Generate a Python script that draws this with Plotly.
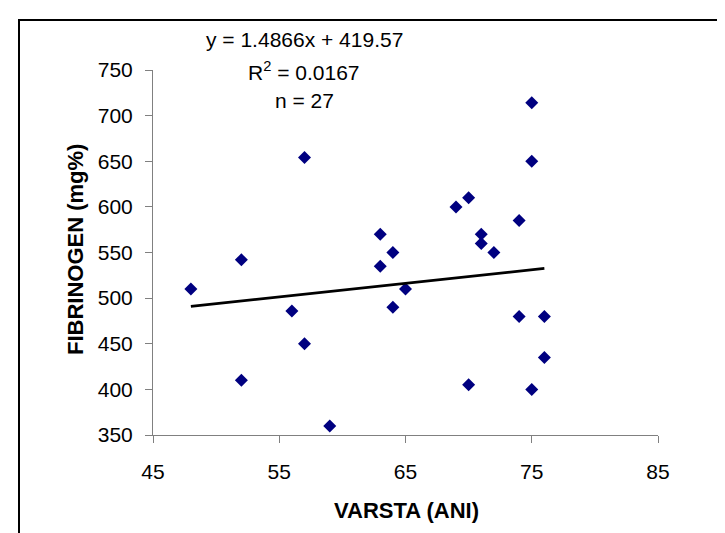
import plotly.graph_objects as go

# Data
age = [48, 52, 52, 56, 57, 57, 59, 63, 63, 64, 64, 65, 69, 70, 70, 71, 71, 72,
       74, 74, 75, 75, 75, 76, 76]
fibrinogen = [510, 542, 410, 486, 654, 450, 360, 570, 535, 550, 490, 510, 600,
              610, 405, 570, 560, 550, 585, 480, 714, 650, 400, 480, 435]

slope = 1.4866
intercept = 419.57
r2 = 0.0167
n = 27

x_ticks = [45, 55, 65, 75, 85]
y_ticks = [350, 400, 450, 500, 550, 600, 650, 700, 750]

FONT = "Liberation Sans, Arial, sans-serif"

# plot-area geometry in pixels (for placing paper-relative items)
L, R, T, B = 145, 650, 62, 427
W, H = R - L, B - T


def px(x):
    return (x - L) / W


def py(y):
    return (B - y) / H


fig = go.Figure()

fig.add_trace(go.Scatter(
    x=age, y=fibrinogen, mode="markers",
    marker=dict(symbol="diamond", size=10, color="#000080"),
    showlegend=False, hoverinfo="x+y",
))

x_line = [min(age), max(age)]
y_line = [slope * v + intercept for v in x_line]
fig.add_trace(go.Scatter(
    x=x_line, y=y_line, mode="lines",
    line=dict(color="black", width=2.8),
    showlegend=False, hoverinfo="skip",
))

axis_common = dict(
    showgrid=False, zeroline=False, showline=True, linecolor="#808080",
    linewidth=1, ticks="outside", ticklen=7, tickcolor="#808080", tickwidth=1,
    tickfont=dict(family=FONT, size=21, color="black"),
)

fig.update_xaxes(
    range=[45, 85], tickvals=x_ticks, ticktext=[str(v) for v in x_ticks],
    ticklabelstandoff=11,
    **axis_common,
)
fig.update_yaxes(
    range=[350, 750], tickvals=y_ticks, ticktext=[str(v) for v in y_ticks],
    ticklabelstandoff=8,
    **axis_common,
)

title_font = dict(family=FONT, size=22, color="black")
fig.add_annotation(
    x=px(398), y=py(502), xref="paper", yref="paper",
    text="<b>VARSTA (ANI)</b>", showarrow=False, font=title_font,
    xanchor="center", yanchor="middle",
)
fig.add_annotation(
    x=px(67), y=py(242), xref="paper", yref="paper",
    text="<b>FIBRINOGEN (mg%)</b>", showarrow=False, font=title_font,
    textangle=-90, xanchor="center", yanchor="middle",
)

ann_font = dict(family=FONT, size=21, color="black")
for txt, yy in [(f"y = {slope}x + {intercept}", 32),
                (f"R<sup>2</sup> = {r2}", 63),
                (f"n = {n}", 92)]:
    fig.add_annotation(
        x=px(296), y=py(yy), xref="paper", yref="paper",
        text=txt, showarrow=False, font=ann_font, xanchor="center", yanchor="middle",
    )

# outer chart border (extends beyond right/bottom edge as in the reference)
fig.add_shape(
    type="rect", xref="paper", yref="paper",
    x0=px(11), x1=px(735), y0=py(545), y1=py(12),
    line=dict(color="black", width=2), fillcolor="rgba(0,0,0,0)", layer="below",
)

fig.update_layout(
    width=725, height=533,
    margin=dict(l=L, r=725 - R, t=T, b=533 - B),
    paper_bgcolor="white", plot_bgcolor="white",
    font=dict(family=FONT, color="black"),
)

fig.write_html("out.html")
